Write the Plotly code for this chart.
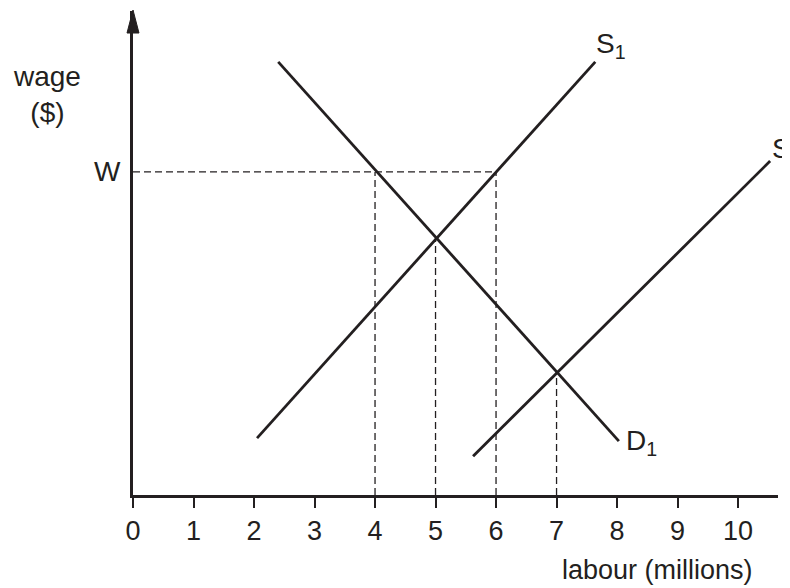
import plotly.graph_objects as go

# ---- data (labour in millions, wage in arbitrary units) ----
s1_x = [2.05, 7.64]
s1_y = [0.94, 7.16]
d1_x = [2.40, 8.03]
d1_y = [7.16, 0.89]
s2_x = [5.62, 10.53]
s2_y = [0.64, 5.52]
wage_W = 5.34
guide_x = [4, 5, 6, 7]
guide_y = [5.34, 4.25, 5.34, 2.01]
tick_vals = list(range(0, 11))
tick_text = [str(v) for v in tick_vals]

INK = "#231f20"
FONT = "Liberation Sans, Arial, sans-serif"

fig = go.Figure()

# dashed guide lines
dx, dy = [0, 6, None], [wage_W, wage_W, None]
for gx, gy in zip(guide_x, guide_y):
    dx += [gx, gx, None]
    dy += [0, gy, None]
fig.add_trace(go.Scatter(x=dx, y=dy, mode="lines",
                         line=dict(color=INK, width=1.3, dash="7px,4px"),
                         hoverinfo="skip", showlegend=False))

for xs, ys in [(s1_x, s1_y), (d1_x, d1_y), (s2_x, s2_y)]:
    fig.add_trace(go.Scatter(x=xs, y=ys, mode="lines",
                             line=dict(color=INK, width=2.8),
                             showlegend=False, cliponaxis=False))

# the page body has an 8px margin, so the figure is sized and offset to compensate
fig.update_layout(
    width=782, height=580,
    margin=dict(l=125, r=12, t=3, b=93),
    paper_bgcolor="white", plot_bgcolor="white",
    font=dict(family=FONT, color=INK, size=28),
    xaxis=dict(range=[0, 10.66], showgrid=False, zeroline=False,
               showline=True, linecolor=INK, linewidth=3,
               ticks="outside", ticklen=10, tickwidth=2, tickcolor=INK,
               tickvals=tick_vals, ticktext=tick_text,
               tickfont=dict(size=27, family=FONT, color=INK)),
    yaxis=dict(range=[0, 8.0], showgrid=False, zeroline=False,
               showline=True, linecolor=INK, linewidth=3,
               showticklabels=False, ticks=""),
    shapes=[dict(type="path", xref="paper", yref="paper",
                 path="M -0.0093 0.9545 L 0 1.002 L 0.0093 0.9545 Z",
                 fillcolor=INK, line=dict(color=INK, width=1))],
    annotations=[
        dict(x=-0.1333, y=0.8285, xref="paper", yref="paper", text="wage<br>($)",
             showarrow=False, xanchor="center", yanchor="middle", font=dict(size=28)),
        dict(x=-0.0403, y=0.669, xref="paper", yref="paper", text="W",
             showarrow=False, xanchor="center", yanchor="middle", font=dict(size=28)),
        dict(x=7.62, y=7.43, xref="x", yref="y", text="S<sub>1</sub>",
             showarrow=False, xanchor="left", yanchor="middle", font=dict(size=28)),
        dict(x=10.52, y=5.70, xref="x", yref="y", text="S<sub>2</sub>",
             showarrow=False, xanchor="left", yanchor="middle", font=dict(size=28)),
        dict(x=8.12, y=0.86, xref="x", yref="y", text="D<sub>1</sub>",
             showarrow=False, xanchor="left", yanchor="middle", font=dict(size=28)),
        dict(x=0.964, y=-0.155, xref="paper", yref="paper", text="labour (millions)",
             showarrow=False, xanchor="right", yanchor="middle", font=dict(size=27)),
    ],
)

fig.write_html("out.html")
